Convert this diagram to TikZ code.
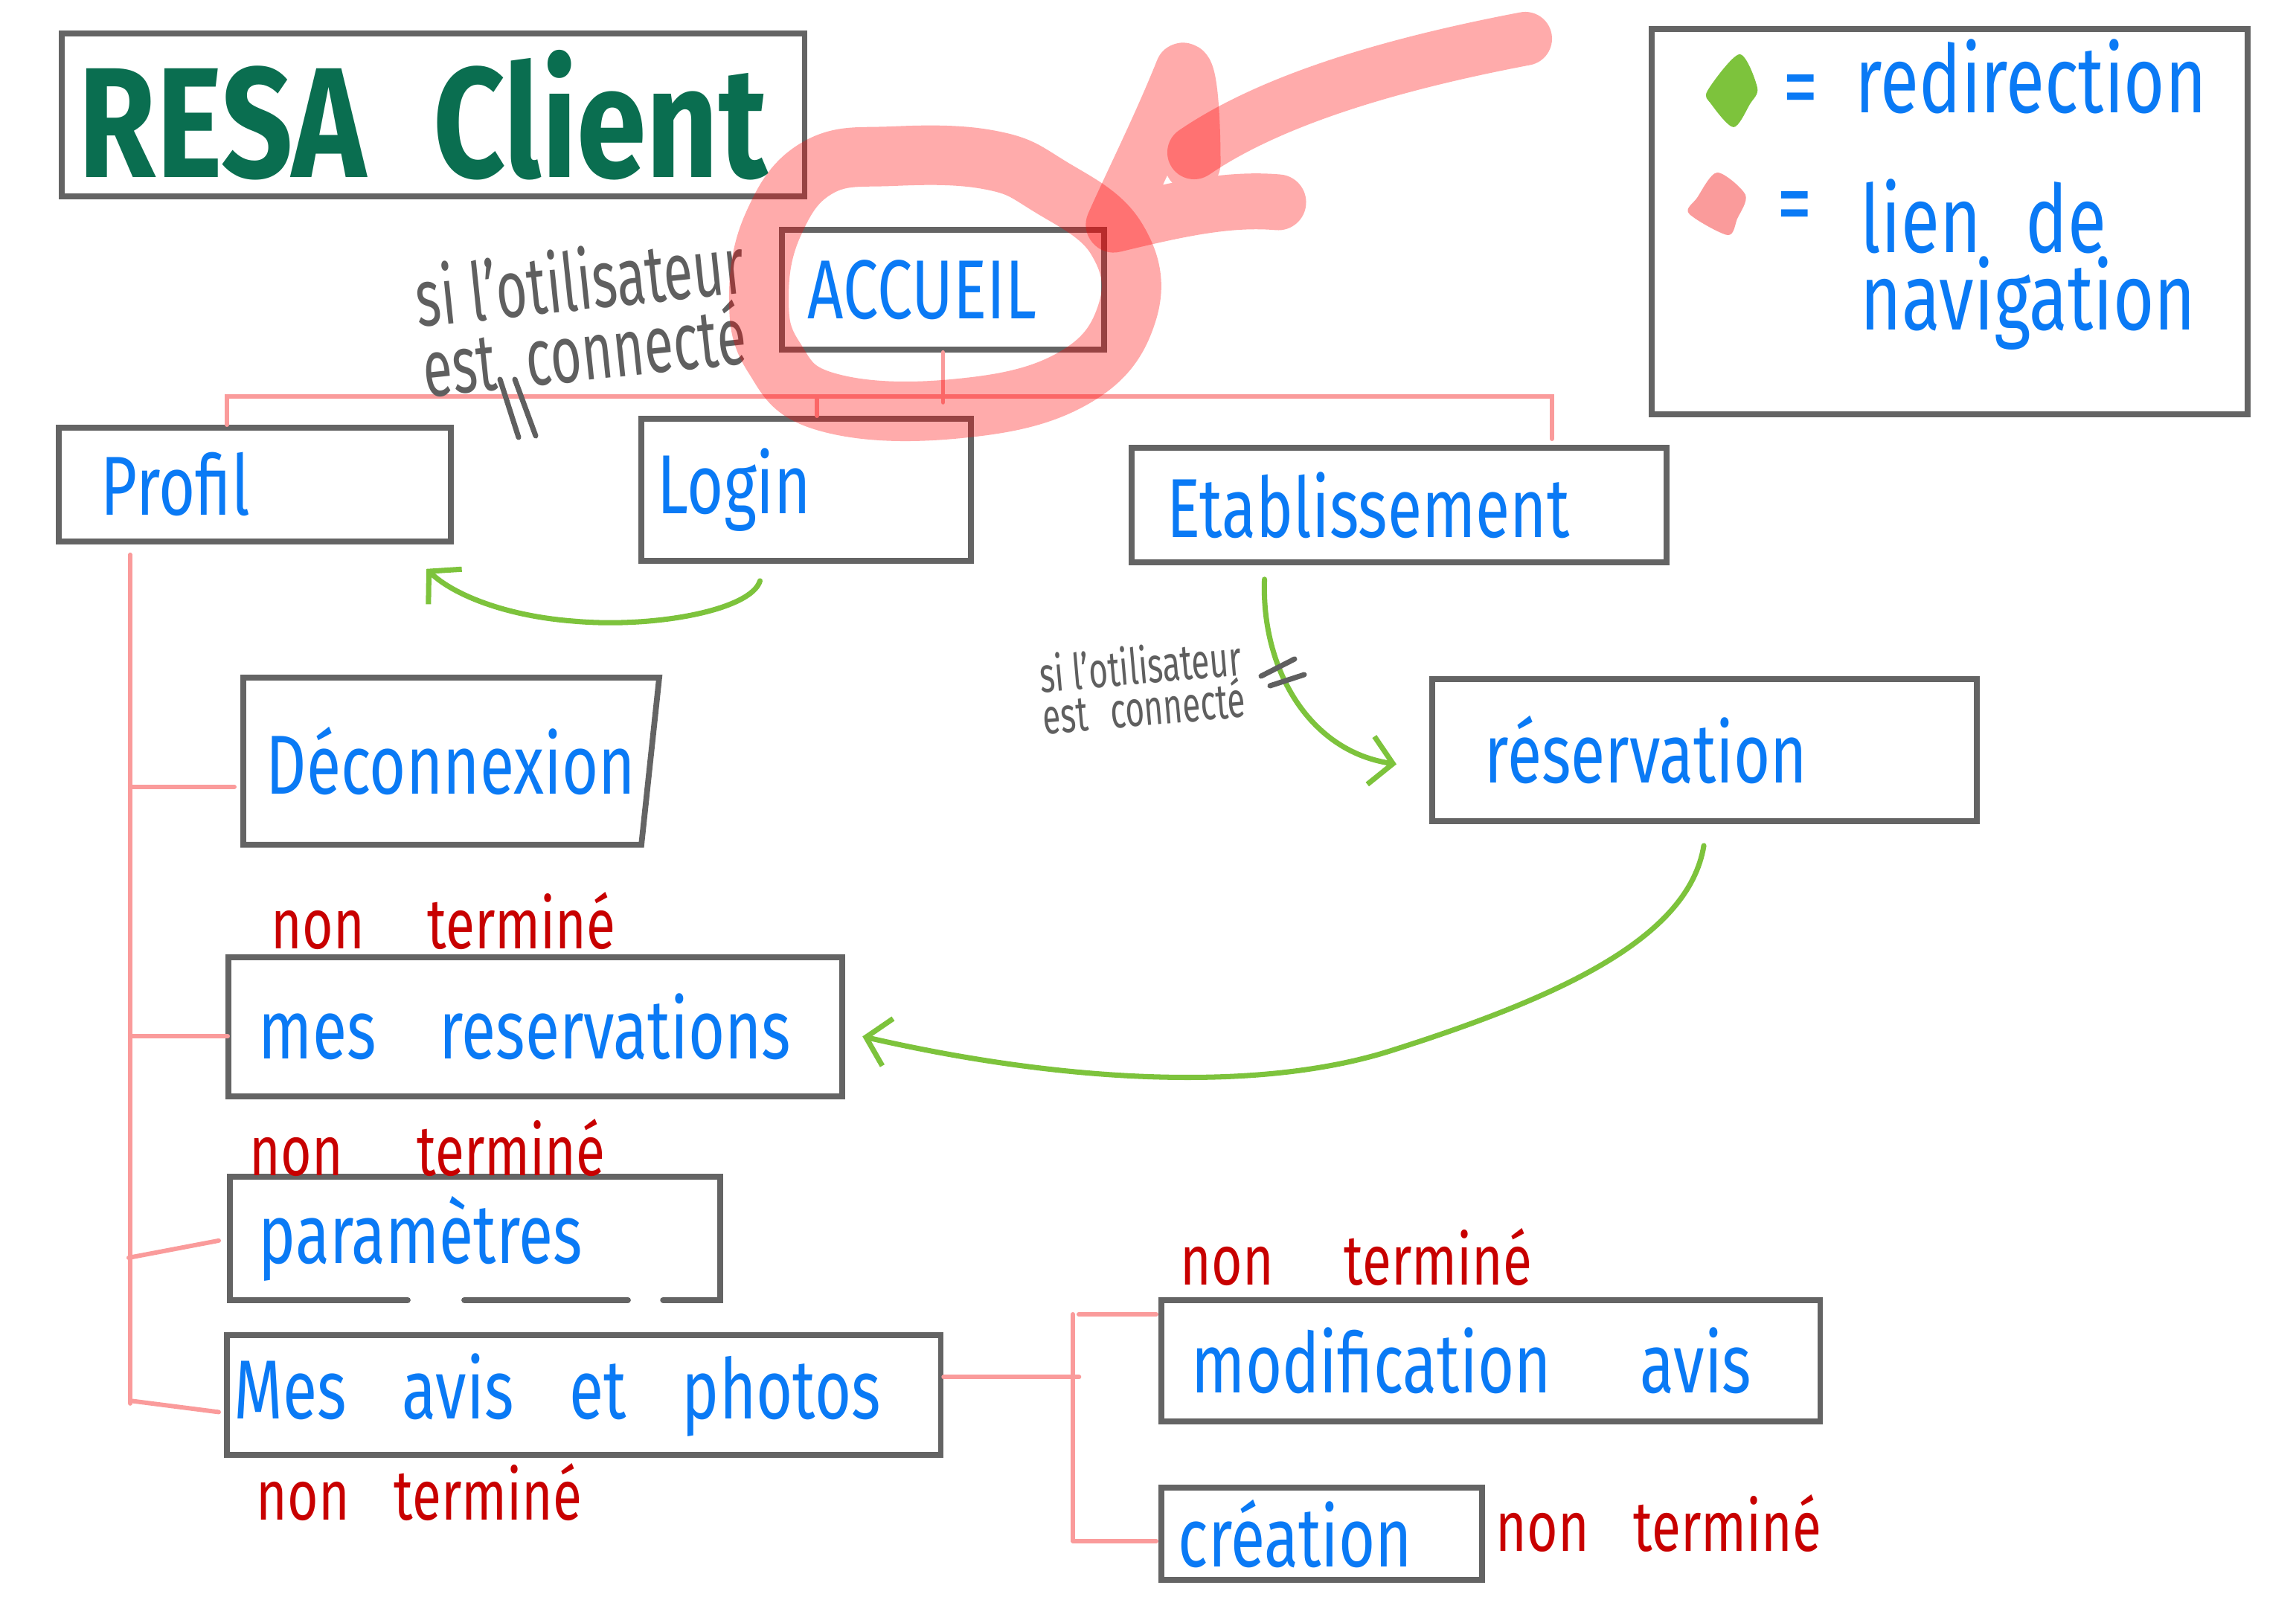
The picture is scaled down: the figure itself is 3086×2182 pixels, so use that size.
\documentclass[tikz,border=0pt]{standalone}
\usepackage{fontspec}
\newfontfamily\hand[FakeStretch=0.75]{Fira Sans}
\newfontfamily\scrawl[FakeStretch=0.66]{Fira Sans}
\newfontfamily\titlehand[FakeStretch=0.8]{Fira Sans}
\usetikzlibrary{arrows.meta,calc}

\definecolor{inkblue}{RGB}{10,122,245}
\definecolor{todored}{RGB}{200,0,0}
\definecolor{boxgray}{RGB}{100,100,100}
\definecolor{linkpink}{RGB}{250,155,155}
\definecolor{redirgreen}{RGB}{125,195,60}
\definecolor{notegray}{RGB}{95,95,95}
\definecolor{titlegreen}{RGB}{10,110,80}

\newcommand{\nonfini}[1][0.8cm]{non\hspace{#1}terminé}

\begin{document}
\begin{tikzpicture}[
  x=0.01cm, y=-0.01cm,
  page/.style={draw=boxgray,line width=2.2pt,anchor=north west,align=left,inner ysep=0pt,
    font=\hand\fontsize{32}{36}\selectfont,text=inkblue},
  rim/.style={draw=boxgray,line width=2.2pt,line cap=round},
  link/.style={draw=linkpink,line width=1.7pt,line cap=round},
  redir/.style={draw=redirgreen,line width=2pt,line cap=round,
    -{Straight Barb[length=0.3cm,width=0.65cm,line width=2pt]}},
  todo/.style={anchor=base west,inner sep=0pt,text=todored,font=\hand\fontsize{27}{30}\selectfont},
  aside/.style={align=left,inner sep=0pt,text=notegray},
  slash/.style={draw=notegray,line width=2pt,line cap=round},
  key/.style={inner sep=0pt,align=left,text=inkblue,font=\hand\fontsize{36}{27}\selectfont},
  hilite/.style={draw=red,opacity=0.33,line width=0.8cm,line cap=round,line join=round}
]
\fill[white] (0,0) rectangle (3086,2182);
\useasboundingbox (0,0) rectangle (3086,2182);

% ---------- title and legend ----------
\node[page,inner xsep=0.23cm,text width=9.52cm,minimum height=2.19cm,text=titlegreen,
  font=\titlehand\bfseries\fontsize{60}{60}\selectfont] (titre) at (79,41) {RESA\hspace{0.9cm}Client};
\node[draw=boxgray,line width=2.2pt,anchor=north west,minimum width=8.01cm,minimum height=5.18cm] (legende) at (2216,35) {};
\fill[redirgreen] plot[smooth cycle] coordinates {(2338,73) (2362,118) (2352,140) (2330,171) (2300,140) (2295,122)};
\fill[linkpink] plot[smooth cycle] coordinates {(2308,232) (2346,262) (2335,294) (2322,316) (2270,287) (2281,266)};
\node[key] (eqredir) at (2420,130) {=};
\node[key] (eqlien) at (2412,287) {=};
\node[key,anchor=base west] (redirtxt) at (2493,152) {redirection};
\node[key,anchor=north west] (navtxt) at (2500,240) {lien\hspace{0.6cm}de\\navigation};

% ---------- pages ----------
\node[page,inner xsep=0.35cm,text width=3.63cm,minimum height=1.61cm] (accueil) at (1047,305) {ACCUEIL};
\node[page,inner xsep=0.57cm,text width=4.13cm,minimum height=1.53cm] (profil) at (75,571) {Profil};
\node[page,inner xsep=0.22cm,text width=3.99cm,minimum height=1.91cm] (login) at (858,559) {Login};
\node[page,inner xsep=0.48cm,text width=6.23cm,minimum height=1.54cm] (etab) at (1517,598) {Etablissement};
\node[page,draw=none,inner xsep=0.27cm,text width=4.97cm,minimum height=2.17cm] (deco) at (327,911) {Déconnexion};
\node[page,inner xsep=0.41cm,text width=7.43cm,minimum height=1.87cm] (mesres) at (303,1283) {mes\hspace{0.85cm}reservations};
\node[page,draw=none,inner xsep=0.35cm,text width=5.81cm,minimum height=1.58cm] (param) at (309,1582) {paramètres};
\node[page,inner xsep=0.10cm,text width=9.39cm,minimum height=1.61cm] (avis) at (301,1791) {Mes\hspace{0.75cm}avis\hspace{0.75cm}et\hspace{0.75cm}photos};
\node[page,inner xsep=0.41cm,text width=8.03cm,minimum height=1.63cm] (modif) at (1557,1744) {modification\hspace{1.2cm}avis};
\node[page,inner xsep=0.23cm,text width=3.85cm,minimum height=1.24cm] (creation) at (1557,1996) {création};
\node[page,inner xsep=0.71cm,text width=5.90cm,minimum height=1.91cm] (reserv) at (1921,909) {réservation};

% hand drawn borders
\draw[rim,line cap=butt,line join=miter] (deco.north west) -- (deco.north east)
  -- ($(deco.south east)+(-24,0)$) -- (deco.south west) -- cycle;
\draw[rim] ($(param.south west)+(239,0)$) -| (param.north west) -| (param.south east) -- ++(-77,0);
\draw[rim] ($(param.south west)+(315,0)$) -- ++(220,0);

% ---------- not finished ----------
\node[todo] (nt1) at (364,1275) {\nonfini[0.85cm]};
\node[todo] (nt2) at (335,1580) {\nonfini[1cm]};
\node[todo] (nt3) at (344,2043) {\nonfini[0.6cm]};
\node[todo] (nt4) at (1586,1727) {\nonfini[0.95cm]};
\node[todo] (nt5) at (2010,2085) {\nonfini[0.6cm]};

% ---------- navigation links ----------
\draw[link] (accueil.south) -- ++(0,67);
\draw[link] ($(profil.north west)+(230,0)$) |- ($(etab.north west)+(569,-65)$) -- ($(etab.north west)+(569,-8)$);
\draw[link] ($(login.north west)+(240,0)$) -- ++(0,-26);
\coordinate (trunk) at ($(profil.south west)+(100,14)$);
\draw[link] (trunk) -- ++(0,1141);
\draw[link] ($(deco.south west)+(-12,-78)$) -- ++(-140,0);
\draw[link] ($(mesres.west)+(3,13)$) -- ++(-129,0);
\draw[link] ($(param.west)+(-15,3)$) -- ++(-121,23);
\draw[link] ($(avis.west)+(-7,23)$) -- ++(-117,-15);
\draw[link] ($(avis.east)+(0,-24)$) -- ++(182,0);
\draw[link] ($(modif.north west)+(-115,23)$) -- ++(0,304);
\draw[link] ($(modif.north west)+(-3,23)$) -- ++(-104,0);
\draw[link] ($(creation.west)+(-3,10)$) -- ++(-112,0);

% ---------- redirections ----------
\draw[redir] ($(login.south)+(-62,23)$) .. controls (1010,820) and (880,845) .. (770,835)
  .. controls (680,828) and (610,800) .. ($(profil.south east)+(-37,33)$);
\draw[redir] ($(etab.south)+(-181,19)$) .. controls (1695,900) and (1760,1010) .. ($(reserv.west)+(-44,19)$);
\draw[redir] ($(reserv.south)+(-1,29)$) .. controls (2270,1260) and (2100,1340) .. (1865,1414)
  .. controls (1700,1465) and (1450,1460) .. ($(mesres.east)+(23,13)$);

% ---------- conditions ----------
\node[aside,rotate=6,font=\scrawl\fontsize{31}{30}\selectfont] (cond1) at (784,422)
  {si l’otilisateur\\[-3pt]est\hspace{0.4cm}connecté};
\draw[slash] (672,510) -- (697,588);
\draw[slash] (692,510) -- (720,586);
\node[aside,rotate=5,font=\scrawl\fontsize{19}{18}\selectfont] (cond2) at (1535,922)
  {si l’otilisateur\\[-2pt]est\hspace{0.3cm}connecté};
\draw[slash] (1695,909) -- (1740,886);
\draw[slash] (1707,922) -- (1753,907);

% ---------- highlight on the home page ----------
\draw[hilite] plot[smooth cycle,tension=0.7] coordinates {(1020,400) (1040,300) (1100,225) (1200,210)
  (1330,215) (1410,250) (1500,320) (1515,420) (1440,510) (1280,550) (1110,540) (1040,480)};
\draw[hilite,line width=0.72cm] (2050,52) .. controls (1850,90) and (1700,140) .. (1605,205);
\draw[hilite,line width=0.75cm] (1603,220) .. controls (1603,150) and (1598,95) .. (1590,95)
  .. controls (1560,170) and (1520,250) .. (1497,302) .. controls (1580,282) and (1650,266) .. (1718,272);
\end{tikzpicture}
\end{document}
